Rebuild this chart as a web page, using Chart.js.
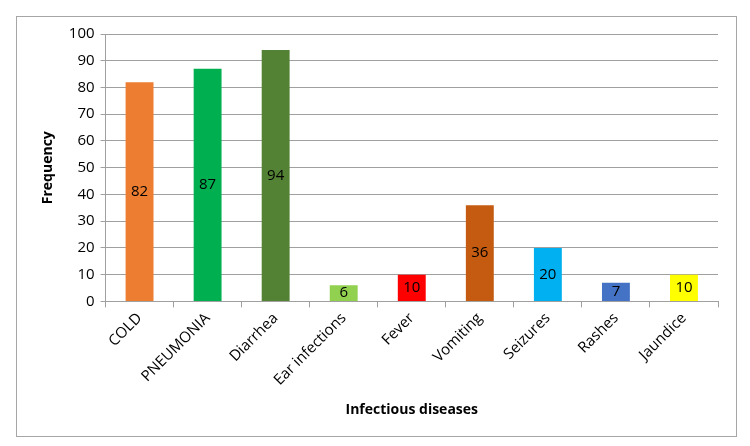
<!DOCTYPE html>
<html>
<head>
<meta charset="utf-8">
<script src="https://cdn.jsdelivr.net/npm/chart.js@4"></script>
<style>
  html, body { margin: 0; padding: 0; background: #fff; }
  #wrap { width: 750px; height: 446px; position: relative; }
</style>
</head>
<body>
<div id="wrap"><canvas id="chart" width="750" height="446"></canvas></div>
<script>
// chart data
const categories = ['COLD', 'PNEUMONIA', 'Diarrhea', 'Ear infections', 'Fever', 'Vomiting', 'Seizures', 'Rashes', 'Jaundice'];
const frequency = [82, 87, 94, 6, 10, 36, 20, 7, 10];
const barColors = ['#ED7D31', '#00B050', '#548235', '#92D050', '#FF0000', '#C55A11', '#00B0F0', '#4472C4', '#FFFF00'];

const FONT = '"Open Sans", "Liberation Sans", Arial, sans-serif';

// outer frame around the whole chart
const framePlugin = {
    id: 'frame',
    beforeDraw(chart) {
        const c = chart.ctx;
        c.save();
        c.fillStyle = '#fff';
        c.fillRect(0, 0, chart.width, chart.height);
        c.strokeStyle = '#a6a6a6';
        c.lineWidth = 1;
        c.strokeRect(16.5, 16.5, 720, 420);
        c.restore();
    }
};

// value labels in the middle of each bar
const valueLabels = {
    id: 'valueLabels',
    afterDatasetsDraw(chart) {
        const c = chart.ctx;
        const meta = chart.getDatasetMeta(0);
        c.save();
        c.font = '15px ' + FONT;
        c.fillStyle = '#000';
        c.textAlign = 'center';
        c.textBaseline = 'middle';
        meta.data.forEach((bar, i) => {
            const mid = (bar.y + bar.base) / 2;
            c.fillText(String(frequency[i]), bar.x, mid);
        });
        c.restore();
    }
};

const ctx = document.getElementById('chart').getContext('2d');
new Chart(ctx, {
    type: 'bar',
    data: {
        labels: categories,
        datasets: [{
            label: 'Frequency',
            data: frequency,
            backgroundColor: barColors,
            borderWidth: 0,
            barPercentage: 0.41,
            categoryPercentage: 1
        }]
    },
    options: {
        responsive: false,
        animation: false,
        layout: { padding: { left: 36, right: 32, top: 34, bottom: 24 } },
        plugins: {
            legend: { display: false },
            tooltip: { enabled: false }
        },
        scales: {
            x: {
                offset: true,
                grid: {
                    offset: true,
                    drawOnChartArea: false,
                    drawTicks: true,
                    tickLength: 6,
                    color: '#a0a0a0'
                },
                border: { color: '#a0a0a0' },
                ticks: {
                    color: '#000',
                    font: { family: FONT, size: 15 },
                    minRotation: 45,
                    maxRotation: 45,
                    padding: 2
                },
                title: {
                    display: true,
                    text: 'Infectious diseases',
                    color: '#000',
                    font: { family: FONT, size: 14, weight: 'bold' },
                    padding: { top: 10 }
                }
            },
            y: {
                min: 0,
                max: 100,
                ticks: {
                    stepSize: 10,
                    color: '#000',
                    font: { family: FONT, size: 15 },
                    padding: 6
                },
                grid: {
                    color: '#a0a0a0',
                    tickLength: 5
                },
                border: { color: '#a0a0a0' },
                title: {
                    display: true,
                    text: 'Frequency',
                    color: '#000',
                    font: { family: FONT, size: 14, weight: 'bold' },
                    padding: { bottom: 6 }
                }
            }
        }
    },
    plugins: [framePlugin, valueLabels]
});
</script>
</body>
</html>
